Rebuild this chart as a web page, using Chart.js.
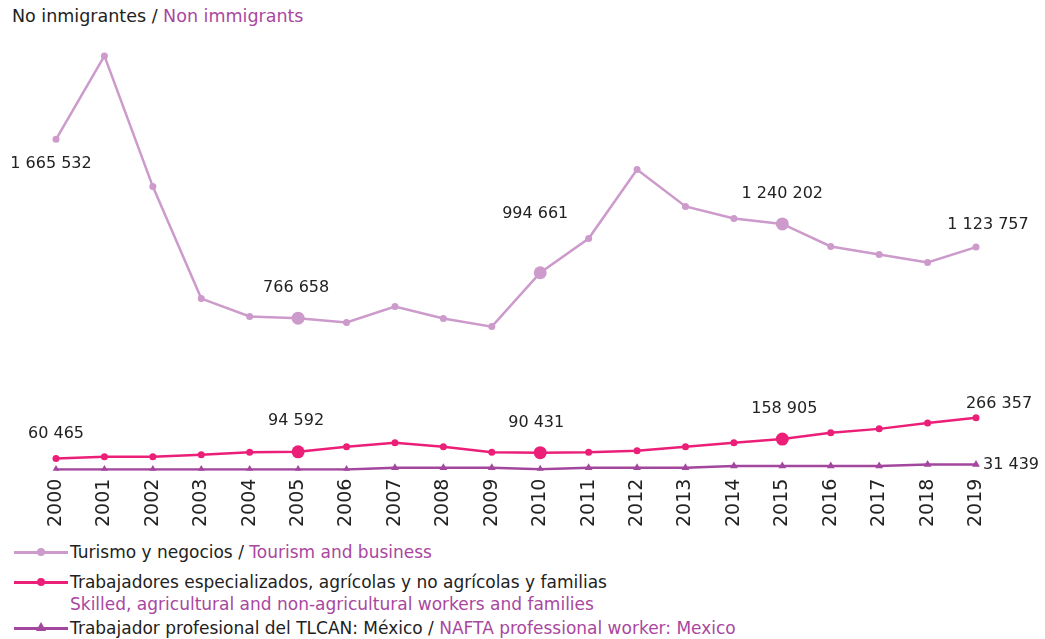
<!DOCTYPE html>
<html>
<head>
<meta charset="utf-8">
<script src="https://cdn.jsdelivr.net/npm/chart.js@4.4.1/dist/chart.umd.min.js"></script>
<style>
  body { margin: 0; background: #fff; font-family: "DejaVu Sans", sans-serif; color: #222; }
  #wrap { position: relative; width: 1045px; height: 639px; }
  #title { position: absolute; left: 12px; top: 6px; font-size: 17.5px; }
  .en { color: #A9479F; }
  #chartBox { position: absolute; left: 0; top: 0; width: 1045px; height: 535px; }
  #legend { position: absolute; left: 14px; top: 541px; font-size: 17px; line-height: 22px; }
  .row { position: relative; padding-left: 56px; margin-bottom: 8px; white-space: nowrap; }
  .row.tight { margin-bottom: 2px; }
  .key { position: absolute; left: 0; top: 10px; width: 54px; height: 3px; }
  .dot { position: absolute; left: 23px; top: -3px; width: 8px; height: 8px; border-radius: 50%; }
  .tri { position: absolute; left: 22px; top: -5px; width: 0; height: 0;
         border-left: 5px solid transparent; border-right: 5px solid transparent; border-bottom: 9px solid #A3479E; }
</style>
</head>
<body>
<div id="wrap">
  <div id="title">No inmigrantes / <span class="en">Non immigrants</span></div>
  <div id="chartBox"><canvas id="chart"></canvas></div>
  <div id="legend">
    <div class="row"><span class="key" style="background:#CC9ACB"><span class="dot" style="background:#CC9ACB"></span></span>Turismo y negocios / <span class="en">Tourism and business</span></div>
    <div class="row tight"><span class="key" style="background:#EC1F78"><span class="dot" style="background:#EC1F78"></span></span>Trabajadores especializados, agrícolas y no agrícolas y familias<br><span class="en">Skilled, agricultural and non-agricultural workers and families</span></div>
    <div class="row"><span class="key" style="background:#A3479E"><span class="tri"></span></span>Trabajador profesional del TLCAN: México / <span class="en">NAFTA professional worker: Mexico</span></div>
  </div>
</div>
<script>
// Años
const years = ["2000","2001","2002","2003","2004","2005","2006","2007","2008","2009",
               "2010","2011","2012","2013","2014","2015","2016","2017","2018","2019"];

// Turismo y negocios
const tourism = [1665532, 2085000, 1428000, 865000, 775000, 766658, 745000, 825000, 765000, 724000,
                 994661, 1167000, 1514000, 1328000, 1268000, 1240202, 1127000, 1087000, 1046000, 1123757];

// Trabajadores especializados, agrícolas y no agrícolas y familias
const workers = [60465, 70000, 70000, 80000, 92000, 94592, 120000, 140000, 120000, 92000,
                 90431, 92000, 100000, 120000, 140000, 158905, 190000, 210000, 240000, 266357];

// Trabajador profesional del TLCAN: México
const nafta = [6000, 6000, 6000, 6000, 6000, 6000, 6000, 15000, 15000, 15000,
               7000, 15000, 15000, 15000, 23000, 23000, 23000, 23000, 31000, 31439];

// Etiquetas visibles (índices)
const tourismLabeled = [0, 5, 10, 15, 19];
const workersLabeled = [0, 5, 10, 15, 19];
const naftaLabeled = [19];

const fmt = v => String(v).replace(/\B(?=(\d{3})+(?!\d))/g, " ");

const bigIdx = [5, 10, 15];
const radii = (small, big) => years.map((_, i) => bigIdx.includes(i) ? big : small);

// Posiciones de etiquetas (dx, dy, align)
const labelPos = {
  0: { 0: [-5, 25, "center"], 5: [-2, -30, "center"], 10: [-5, -59, "center"], 15: [0, -30, "center"], 19: [12, -22, "center"] },
  1: { 0: [0, -25, "center"], 5: [-2, -31, "center"], 10: [-4, -30, "center"], 15: [2, -30, "center"], 19: [23, -14, "center"] },
  2: { 19: [7, 0, "left"] }
};

const labelPlugin = {
  id: "valueLabels",
  afterDatasetsDraw(chart) {
    const ctx = chart.ctx;
    const sets = [tourismLabeled, workersLabeled, naftaLabeled];
    ctx.save();
    ctx.font = "16px 'DejaVu Sans', sans-serif";
    ctx.fillStyle = "#222";
    ctx.textBaseline = "middle";
    sets.forEach((idxs, d) => {
      const meta = chart.getDatasetMeta(d);
      idxs.forEach(i => {
        const pt = meta.data[i];
        const p = labelPos[d][i];
        ctx.textAlign = p[2];
        ctx.fillText(fmt(chart.data.datasets[d].data[i]), pt.x + p[0], pt.y + p[1]);
      });
    });
    ctx.restore();
  }
};

new Chart(document.getElementById("chart"), {
  type: "line",
  data: {
    labels: years,
    datasets: [
      { label: "Turismo y negocios", data: tourism, borderColor: "#CC9ACB", backgroundColor: "#CC9ACB",
        borderWidth: 2.5, pointRadius: radii(3.5, 6.5), pointBorderWidth: 0, tension: 0 },
      { label: "Trabajadores", data: workers, borderColor: "#EC1F78", backgroundColor: "#EC1F78",
        borderWidth: 2.5, pointRadius: radii(3.5, 6.5), pointBorderWidth: 0, tension: 0 },
      { label: "TLCAN", data: nafta, borderColor: "#A3479E", backgroundColor: "#A3479E",
        borderWidth: 2.5, pointStyle: "triangle", pointRadius: 4.5, pointBorderWidth: 0, tension: 0 }
    ]
  },
  options: {
    responsive: true,
    maintainAspectRatio: false,
    animation: false,
    layout: { padding: { left: 56, right: 69, top: 33, bottom: 0 } },
    plugins: { legend: { display: false }, tooltip: { enabled: false } },
    scales: {
      x: {
        offset: false,
        grid: { display: false, drawTicks: false },
        border: { display: false },
        ticks: { color: "#222", font: { size: 19, family: "'DejaVu Sans', sans-serif" },
                 minRotation: 90, maxRotation: 90, padding: 8 }
      },
      y: { display: false, min: 0, max: 2200000 }
    }
  },
  plugins: [labelPlugin]
});
</script>
</body>
</html>
